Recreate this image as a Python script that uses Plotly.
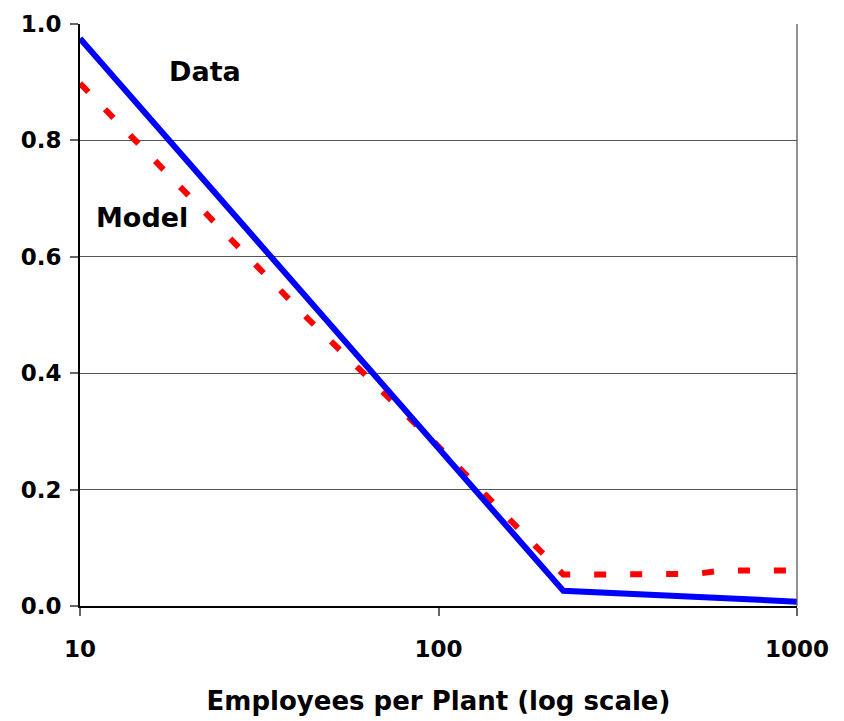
import plotly.graph_objects as go

# Data series (x: employees per plant, log scale)
data_x = [10, 223, 1000]
data_y = [0.975, 0.026, 0.0075]

model_x = [10, 43, 100, 223, 520, 620, 1000]
model_y = [0.898, 0.495, 0.274, 0.054, 0.055, 0.061, 0.061]

x_ticks = [10, 100, 1000]
x_ticklabels = ["10", "100", "1000"]
y_ticks = [0.0, 0.2, 0.4, 0.6, 0.8, 1.0]

FONT = "DejaVu Sans, Arial, sans-serif"

fig = go.Figure()
fig.add_trace(go.Scatter(
    x=model_x, y=model_y, mode="lines", name="Model",
    line=dict(color="#FF0000", width=6, dash="12px,24px"),
    cliponaxis=False,
))
fig.add_trace(go.Scatter(
    x=data_x, y=data_y, mode="lines", name="Data",
    line=dict(color="#0000FF", width=6),
    cliponaxis=False,
))

# label positions (log10 units on x)
fig.add_annotation(x=1.349, y=0.918, xref="x", yref="y", text="<b>Data</b>",
                   showarrow=False, font=dict(family=FONT, size=27, color="black"))
fig.add_annotation(x=1.172, y=0.668, xref="x", yref="y", text="<b>Model</b>",
                   showarrow=False, font=dict(family=FONT, size=27, color="black"))

# right border of plot area
fig.add_shape(type="line", xref="paper", yref="paper", x0=1, x1=1, y0=0, y1=1,
              line=dict(color="#555555", width=1.3))

fig.update_layout(
    width=836, height=713,
    margin=dict(l=72, r=47, t=16, b=115),
    plot_bgcolor="white", paper_bgcolor="white",
    showlegend=False,
    font=dict(family=FONT, color="black"),
    xaxis=dict(
        type="log", range=[1, 3], automargin=False,
        tickvals=x_ticks, ticktext=[f"<b>{t}</b>" for t in x_ticklabels],
        ticks="outside", ticklen=8, tickcolor="#666666", tickwidth=2,
        showline=True, linecolor="black", linewidth=2,
        showgrid=False, zeroline=False,
        tickfont=dict(family=FONT, size=23, color="black"),
        ticklabelstandoff=13,
        title=dict(text="<b>Employees per Plant (log scale)</b>",
                   font=dict(family=FONT, size=26, color="black"), standoff=31),
    ),
    yaxis=dict(
        range=[0, 1], tickvals=y_ticks, automargin=False,
        ticktext=[f"<b>{v:.1f}</b>" for v in y_ticks],
        ticks="outside", ticklen=8, tickcolor="#666666", tickwidth=1.5,
        showline=True, linecolor="black", linewidth=2,
        showgrid=True, gridcolor="#555555", gridwidth=1.3,
        zeroline=False,
        tickfont=dict(family=FONT, size=23, color="black"),
        ticklabelstandoff=4,
    ),
)

fig.write_html("out.html")
